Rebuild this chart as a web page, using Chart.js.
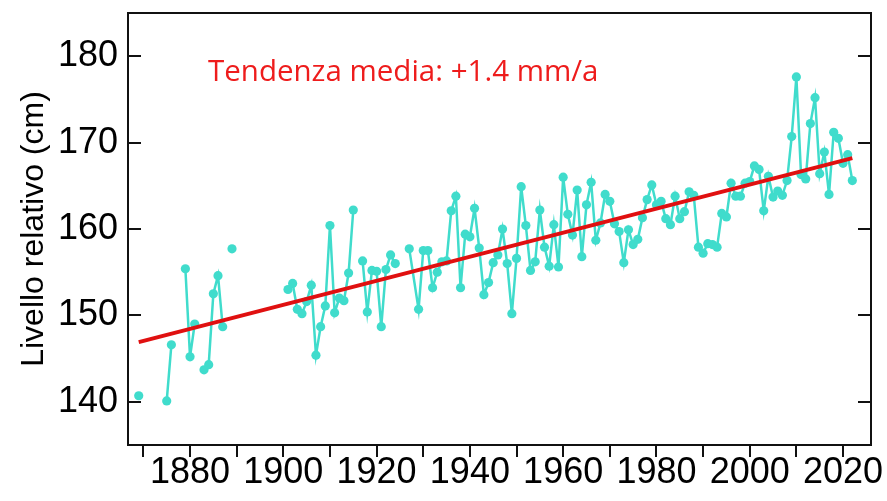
<!DOCTYPE html>
<html>
<head>
<meta charset="utf-8">
<script src="https://cdn.jsdelivr.net/npm/chart.js@4/dist/chart.umd.min.js"></script>
<style>
  html, body { margin: 0; padding: 0; background: #fff; }
  #wrap { width: 887px; height: 501px; }
</style>
</head>
<body>
<div id="wrap"><canvas id="myChart" width="887" height="501"></canvas></div>
<script>
// Annual mean relative sea level (cm), null = missing year (breaks the line)
const years = [
  1869, 1870, 1875, 1876, 1877, 1879, 1880, 1881, 1882, 1883, 1884, 1885, 1886, 1887, 1888, 1889, 1890,
  1901, 1902, 1903, 1904, 1905, 1906, 1907, 1908, 1909, 1910, 1911, 1912, 1913, 1914, 1915, 1916,
  1917, 1918, 1919, 1920, 1921, 1922, 1923, 1924, 1925, 1927, 1929, 1930, 1931, 1932, 1933, 1934,
  1935, 1936, 1937, 1938, 1939, 1940, 1941, 1942, 1943, 1944, 1945, 1946, 1947, 1948, 1949, 1950,
  1951, 1952, 1953, 1954, 1955, 1956, 1957, 1958, 1959, 1960, 1961, 1962, 1963, 1964, 1965, 1966,
  1967, 1968, 1969, 1970, 1971, 1972, 1973, 1974, 1975, 1976, 1977, 1978, 1979, 1980, 1981, 1982,
  1983, 1984, 1985, 1986, 1987, 1988, 1989, 1990, 1991, 1992, 1993, 1994, 1995, 1996, 1997, 1998,
  1999, 2000, 2001, 2002, 2003, 2004, 2005, 2006, 2007, 2008, 2009, 2010, 2011, 2012, 2013, 2014,
  2015, 2016, 2017, 2018, 2019, 2020, 2021, 2022
];
const levels = [
  140.7, null, 140.1, 146.6, null, 155.4, 145.2, 149.0, null, 143.7, 144.3, 152.5, 154.6, 148.7, null, 157.7, null,
  153.0, 153.7, 150.7, 150.2, 151.6, 153.5, 145.4, 148.7, 151.1, 160.4, 150.3, 152.0, 151.7, 154.9, 162.2, null,
  156.3, 150.4, 155.2, 155.1, 148.7, 155.3, 157.0, 156.0, null, 157.7, 150.7, 157.5, 157.5, 153.2, 155.0, 156.2,
  156.3, 162.1, 163.8, 153.2, 159.4, 159.1, 162.4, 157.8, 152.4, 153.8, 156.1, 157.0, 160.0, 156.0, 150.2, 156.6,
  164.9, 160.4, 155.2, 156.2, 162.2, 157.9, 155.7, 160.5, 155.6, 166.0, 161.7, 159.3, 164.5, 156.8, 162.8, 165.4,
  158.7, 160.7, 164.0, 163.2, 160.6, 159.7, 156.1, 159.9, 158.2, 158.8, 161.3, 163.4, 165.1, 162.8, 163.2, 161.2,
  160.5, 163.8, 161.2, 162.0, 164.3, 163.9, 157.9, 157.2, 158.3, 158.2, 157.9, 161.8, 161.4, 165.3, 163.8, 163.8,
  165.3, 165.5, 167.3, 166.9, 162.1, 166.1, 163.7, 164.4, 163.9, 165.6, 170.7, 177.6, 166.3, 165.8, 172.2, 175.2,
  166.4, 168.9, 164.0, 171.2, 170.5, 167.6, 168.6, 165.6
];

// Linear trend (+1.4 mm/a)
const trendYears = [1869, 2022];
const trendLevels = [146.9, 168.2];

const yTicks = [140, 150, 160, 170, 180];
const trendLabel = 'Tendenza media: +1.4 mm/a';

const ctx = document.getElementById('myChart').getContext('2d');

// frame, inward y ticks and the trend text
const framePlugin = {
  id: 'frame',
  afterDraw(chart) {
    const { ctx, chartArea: a, scales } = chart;
    ctx.save();
    ctx.strokeStyle = '#111';
    ctx.lineWidth = 2;
    ctx.strokeRect(a.left, a.top, a.right - a.left, a.bottom - a.top);
    scales.y.ticks.forEach(t => {
      const py = Math.round(scales.y.getPixelForValue(t.value));
      ctx.beginPath();
      ctx.moveTo(a.left, py);
      ctx.lineTo(a.left + 13, py);
      ctx.moveTo(a.right - 13, py);
      ctx.lineTo(a.right, py);
      ctx.stroke();
    });
    ctx.fillStyle = '#ee1c1c';
    ctx.font = '29.5px "Open Sans", sans-serif';
    ctx.textBaseline = 'alphabetic';
    ctx.fillText(trendLabel, a.left + 80, a.top + 68);
    ctx.restore();
  }
};

new Chart(ctx, {
  type: 'line',
  data: {
    datasets: [
      {
        label: 'trend',
        data: trendYears.map((x, i) => ({ x, y: trendLevels[i] })),
        borderColor: '#e01010',
        borderWidth: 4,
        pointRadius: 0,
        fill: false,
        tension: 0
      },
      {
        label: 'livello',
        data: years.map((x, i) => ({ x, y: levels[i] })),
        borderColor: '#40dccc',
        backgroundColor: '#40dccc',
        borderWidth: 2.5,
        pointRadius: 4.6,
        pointBorderWidth: 0,
        spanGaps: false,
        fill: false,
        tension: 0
      }
    ]
  },
  options: {
    responsive: false,
    animation: false,
    layout: { padding: { top: 13, right: 16, left: 0, bottom: 0 } },
    plugins: { legend: { display: false }, tooltip: { enabled: false } },
    scales: {
      x: {
        type: 'linear',
        min: 1866.7,
        max: 2026,
        afterBuildTicks: s => {
          const t = [];
          for (let v = 1870; v <= 2020; v += 10) t.push({ value: v });
          s.ticks = t;
        },
        afterFit: s => { s.height = 56; },
        ticks: {
          autoSkip: false,
          maxRotation: 0,
          padding: -6,
          color: '#000',
          font: { family: '"Liberation Sans Narrow", "Arial Narrow", sans-serif', size: 36 },
          callback: v => (v % 20 === 0 ? String(v) : '')
        },
        grid: { drawOnChartArea: false, drawTicks: true, tickLength: 12, color: '#111', lineWidth: 2 },
        border: { display: false }
      },
      y: {
        min: 135,
        max: 185,
        afterBuildTicks: s => { s.ticks = yTicks.map(v => ({ value: v })); },
        afterFit: s => { s.width = 128; s.paddingTop = 0; s.paddingBottom = 0; },
        ticks: {
          padding: 10,
          color: '#000',
          // small line height so the labels do not push the plot area down
          font: { family: '"Liberation Sans Narrow", "Arial Narrow", sans-serif', size: 36, lineHeight: 0.2 }
        },
        grid: { drawOnChartArea: false, drawTicks: false },
        border: { display: false },
        title: {
          display: true,
          text: 'Livello relativo (cm)',
          color: '#000',
          font: { family: '"Liberation Sans", Arial, sans-serif', size: 32 },
          padding: { top: 15, bottom: 0 }
        }
      }
    }
  },
  plugins: [framePlugin]
});
</script>
</body>
</html>
